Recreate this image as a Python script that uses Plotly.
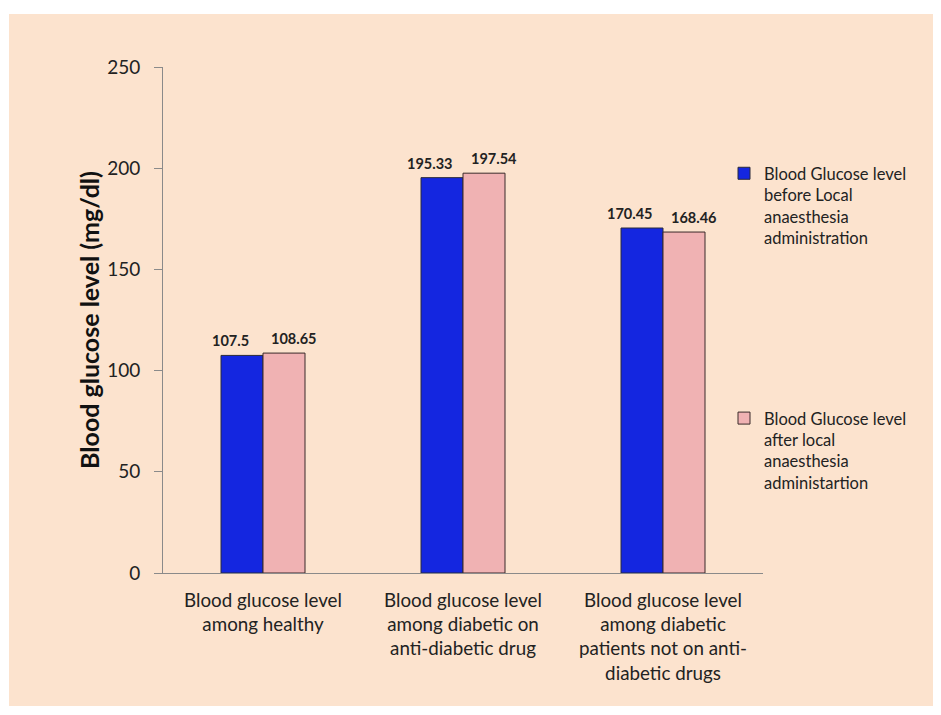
import plotly.graph_objects as go

categories = [
    "Blood glucose level<br>among healthy",
    "Blood glucose level<br>among diabetic on<br>anti-diabetic drug",
    "Blood glucose level<br>among diabetic<br>patients not on anti-<br>diabetic drugs",
]
before_vals = [107.5, 195.33, 170.45]
after_vals = [108.65, 197.54, 168.46]
before_labels = ["107.5", "195.33", "170.45"]
after_labels = ["108.65", "197.54", "168.46"]
series_names = [
    "Blood Glucose level<br>before Local<br>anaesthesia<br>administration",
    "Blood Glucose level<br>after local<br>anaesthesia<br>administartion",
]
y_ticks = [0, 50, 100, 150, 200, 250]

FONT = "Lato, Carlito, 'Open Sans', sans-serif"

# page offset of the figure inside the browser window (body margin)
OFF = 8
PL, PT, PW, PH = 163, 67, 600, 506  # plot area in window pixels

fig = go.Figure()
fig.add_trace(go.Bar(
    x=categories, y=before_vals, name=series_names[0],
    marker=dict(color="#1426E0", line=dict(color="#2a2a3a", width=1)),
    legendgroup="a",
))
fig.add_trace(go.Bar(
    x=categories, y=after_vals, name=series_names[1],
    marker=dict(color="#F0B2B3", line=dict(color="#3a2a2a", width=1)),
    legendgroup="b",
))

# data labels, placed above each bar (spread slightly outward as in the original)
annotations = []
for vals, labels, shift in ((before_vals, before_labels, -33), (after_vals, after_labels, 31)):
    for cat, v, lab in zip(categories, vals, labels):
        annotations.append(dict(
            x=cat, y=v, xref="x", yref="y", text=f"<b>{lab}</b>",
            showarrow=False, xshift=shift, yshift=4, yanchor="bottom",
            font=dict(family=FONT, size=14.5, color="#222222"),
        ))

fig.update_layout(
    width=941 - OFF, height=715 - OFF,
    margin=dict(l=PL - OFF, r=941 - PL - PW, t=PT - OFF, b=715 - PT - PH),
    paper_bgcolor="white",
    plot_bgcolor="rgba(0,0,0,0)",
    barmode="group",
    bargap=0.58, bargroupgap=0,
    font=dict(family=FONT, color="#222222"),
    showlegend=True,
    legend=dict(
        x=0.935, xanchor="left", y=0.824, yanchor="top",
        font=dict(family=FONT, size=16.5, color="#222222"),
        tracegroupgap=156, traceorder="grouped", valign="top",
        bgcolor="rgba(0,0,0,0)", itemwidth=30,
    ),
    annotations=annotations,
    shapes=[dict(
        type="rect", xref="paper", yref="paper", layer="below",
        x0=(9 - PL) / PW, x1=(936 - PL) / PW,
        y0=(PT + PH - 706) / PH, y1=(PT + PH - 14) / PH,
        fillcolor="#FCE3CE", line=dict(width=0),
    )],
)
fig.update_xaxes(
    showline=True, linecolor="#8a8a8a", linewidth=1,
    ticks="outside", ticklen=10, tickcolor="rgba(0,0,0,0)",
    tickfont=dict(family=FONT, size=18.8, color="#222222"),
    showgrid=False,
)
fig.update_yaxes(
    range=[0, 250], tickvals=y_ticks,
    showline=True, linecolor="#8a8a8a", linewidth=1,
    ticks="outside", ticklen=8, tickcolor="#8a8a8a",
    ticklabelstandoff=10,
    tickfont=dict(family=FONT, size=19, color="#222222"),
    showgrid=False, zeroline=False,
    title=dict(text="<b>Blood glucose level (mg/dl)</b>",
               font=dict(family=FONT, size=25, color="#111111"), standoff=0),
)

fig.write_html("out.html")
